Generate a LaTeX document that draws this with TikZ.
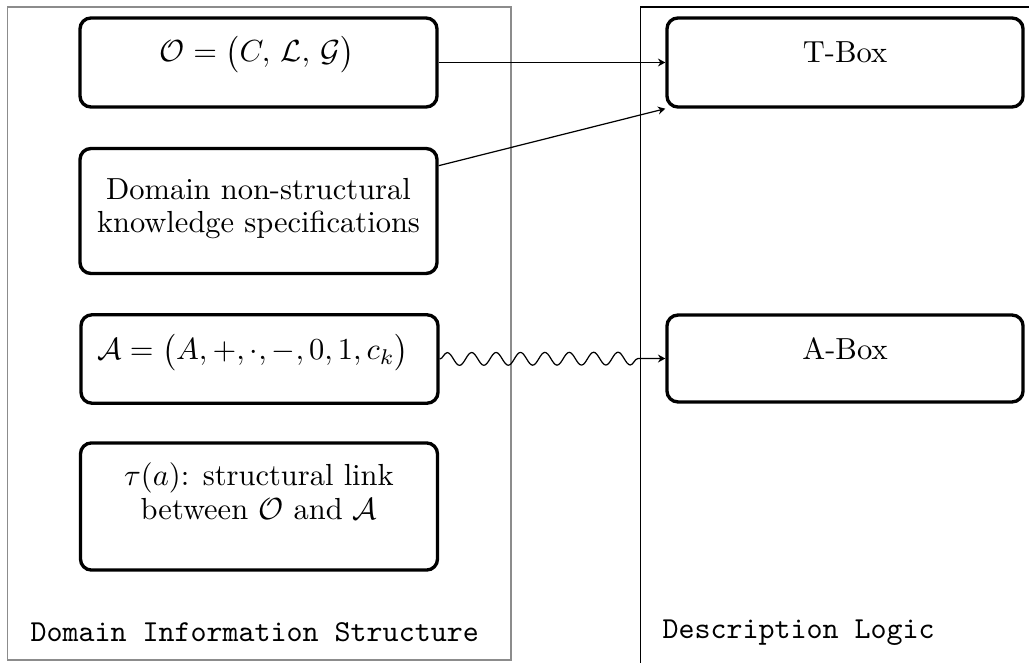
\documentclass[tikz,border=0pt]{standalone}
\usepackage{amsmath}
\usetikzlibrary{arrows.meta,decorations.pathmorphing}
\begin{document}
\begin{tikzpicture}[x=0.328pt,y=-0.328pt,
  frameL/.style={draw=black!45, line width=0.4pt},
  frameR/.style={draw=black, line width=0.4pt},
  block/.style={draw, line width=1.1pt, rounded corners=3.6pt, inner sep=0pt,
                minimum width=117.1pt},
  boxtext/.style={anchor=base, align=center, inner sep=0pt},
  legend/.style={anchor=base west, inner sep=0pt, font=\ttfamily},
  link/.style={-{Stealth[length=2.4pt,width=2.6pt]}, line width=0.4pt},
]
\useasboundingbox (0,0) rectangle (1029,663);

% the two frames
\draw[frameL] (7.5,7) rectangle (511,660);
\begin{scope}
  \clip (0,0) rectangle (1029,663);
  \draw[frameR] (640.5,7) rectangle (1100,720);
\end{scope}

% left column
\node[block, minimum height=29.2pt] (onto) at (258.5,62.5) {};
\node[block, minimum height=41pt]   (spec) at (258.5,211) {};
\node[block, minimum height=29pt]   (alg)  at (259.5,359) {};
\node[block, minimum height=41.7pt] (link) at (259,506.5) {};

% right column
\node[block, minimum height=29.2pt, minimum width=116.8pt] (tbox) at (845,62.5) {};
\node[block, minimum height=28.5pt, minimum width=116.8pt] (abox) at (845,358.5) {};

% box contents (base anchor = baseline of the last line)
\node[boxtext] (ontoT) at (257,62) {$\mathcal{O} = \bigl(C,\,\mathcal{L},\,\mathcal{G}\bigr)$};
\node[boxtext] (specT) at (258.5,233) {Domain non-structural\\[-1pt] knowledge specifications};
\node[boxtext] (algT)  at (253,360) {$\mathcal{A} = \bigl(A, +, \cdot, -, 0, 1, c_k\bigr)$};
\node[boxtext] (linkT) at (259,519) {$\tau(a)$: structural link\\[-1pt] between $\mathcal{O}$ and $\mathcal{A}$};
\node[boxtext] (tboxT) at (845,63) {T-Box};
\node[boxtext] (aboxT) at (845,360) {A-Box};

% frame captions
\node[legend] (dis) at (30,641) {Domain Information Structure};
\node[legend] (dl)  at (662,638) {Description Logic};

% connectors
\draw[link] (onto.east) -- (tbox.west);
\draw[link] (spec) -- (tbox.south west);
\draw[link, decorate, decoration={snake, amplitude=2.1pt, segment length=8pt,
      post length=2.5mm}] (alg.east) -- (abox.west);
\end{tikzpicture}
\end{document}
